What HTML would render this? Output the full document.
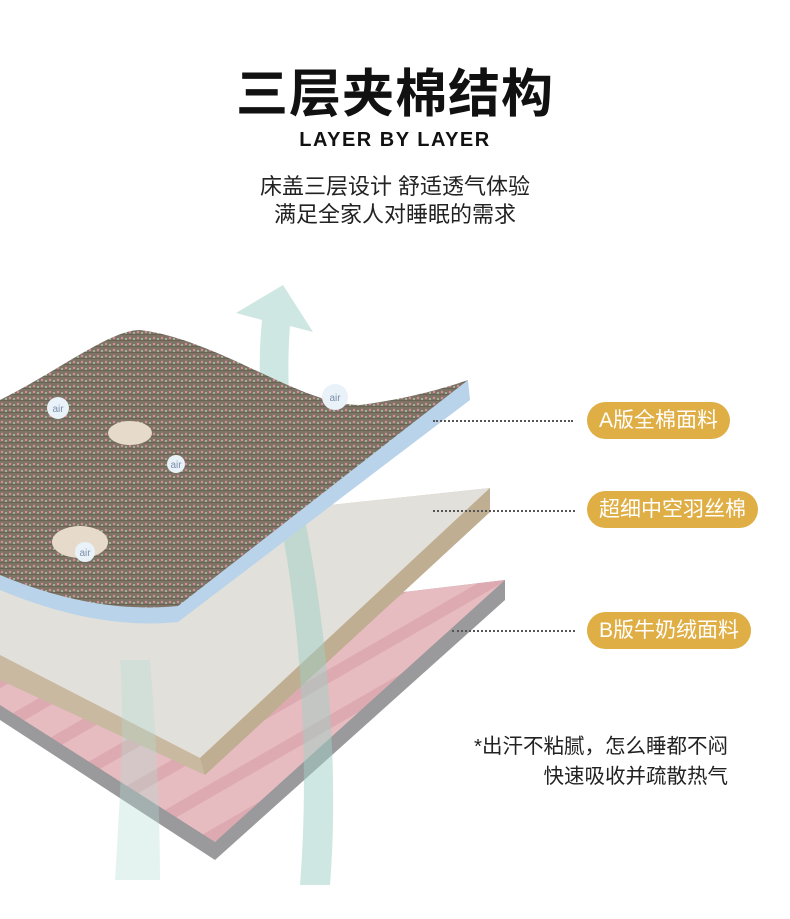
<!DOCTYPE html>
<html><head><meta charset="utf-8"><style>
body{margin:0;width:790px;height:919px;background:#fff;overflow:hidden;position:relative;font-family:"Liberation Sans","Noto Sans CJK SC",sans-serif;}
.t{position:absolute;left:0;width:790px;text-align:center;color:#111;}
.pill{position:absolute;left:587px;height:37px;border-radius:19px;background:#dfae45;color:#fff;font-size:21px;line-height:37px;padding:0 12px;white-space:nowrap;}
.dot{position:absolute;border-top:2px dotted #555;height:0;}
.note{position:absolute;right:62px;text-align:right;font-size:20.5px;color:#222;line-height:30px;}
</style></head><body>
<div class="t" style="top:52px;font-size:52px;font-weight:bold;letter-spacing:1px;">三层夹棉结构</div>
<div class="t" style="top:129px;font-size:20px;font-weight:bold;letter-spacing:1.5px;">LAYER BY LAYER</div>
<div class="t" style="top:173px;font-size:22px;line-height:28px;color:#222;">床盖三层设计 舒适透气体验<br>满足全家人对睡眠的需求</div>

<svg width="790" height="919" style="position:absolute;left:0;top:0">
<defs>
<pattern id="fab" width="8" height="6" patternUnits="userSpaceOnUse">
<rect width="8" height="6" fill="#7d7466"/><rect y="4" width="8" height="1" fill="#6a6254"/>
<circle cx="2" cy="2" r="1.2" fill="#d88a9a"/><circle cx="6" cy="3" r="1" fill="#a9c4a0"/>
</pattern>
<pattern id="pink" width="40" height="40" patternUnits="userSpaceOnUse" patternTransform="rotate(-30)">
<rect width="40" height="40" fill="#e7bcc0"/><rect y="24" width="40" height="12" fill="#dcaab0"/>
</pattern>
</defs>
<polygon points="0,640 505,580 505,600 215,860 0,720" fill="#9a999c"/>
<polygon points="0,640 505,580 215,842 0,705" fill="url(#pink)"/>
<polygon points="0,540 490,488 490,512 205,775 0,680" fill="#c8b9a0"/>
<polygon points="0,540 490,488 200,758 0,655" fill="#e2e0da"/>
<polygon points="200,758 490,488 490,512 205,775" fill="#bfae92"/>
<path d="M300,885 C310,760 300,620 280,520 C265,450 255,390 262,320 L236,313 L283,285 L313,332 L290,326 C285,390 292,450 305,520 C325,620 340,760 330,885 Z" fill="#9fd0c5" opacity="0.5"/>
<path d="M115,880 C120,800 125,720 120,660 L150,660 C155,720 160,800 160,880 Z" fill="#b5ddd3" opacity="0.35"/>
<path d="M0,400 C60,370 110,330 140,330 C220,340 300,405 360,405 C400,400 440,390 468,380 L470,400 L178,622 C120,628 60,615 0,590 Z" fill="#b9d3ea"/>
<path d="M0,400 C60,370 110,330 140,330 C220,340 300,405 360,405 C400,400 440,390 468,380 L178,606 C120,612 60,600 0,575 Z" fill="url(#fab)"/>
<g font-size="10" fill="#7a8fa8" text-anchor="middle">
<circle cx="58" cy="408" r="11" fill="#e9f1f9"/><text x="58" y="412">air</text>
<circle cx="335" cy="397" r="13" fill="#e9f1f9"/><text x="335" y="401">air</text>
<circle cx="176" cy="464" r="9" fill="#e9f1f9"/><text x="176" y="468">air</text>
<ellipse cx="130" cy="433" rx="22" ry="12" fill="#e6dbcb"/>
<ellipse cx="80" cy="542" rx="28" ry="16" fill="#e6dbcb"/>
<circle cx="85" cy="552" r="10" fill="#e9f1f9"/><text x="85" y="556">air</text>
</g>
</svg>

<div class="dot" style="left:433px;top:420px;width:140px"></div>
<div class="dot" style="left:433px;top:510px;width:142px"></div>
<div class="dot" style="left:452px;top:630px;width:123px"></div>
<div class="pill" style="top:402px">A版全棉面料</div>
<div class="pill" style="top:491px">超细中空羽丝棉</div>
<div class="pill" style="top:612px">B版牛奶绒面料</div>
<div class="note" style="top:732px">*出汗不粘腻，怎么睡都不闷<br>快速吸收并疏散热气</div>
</body></html>
